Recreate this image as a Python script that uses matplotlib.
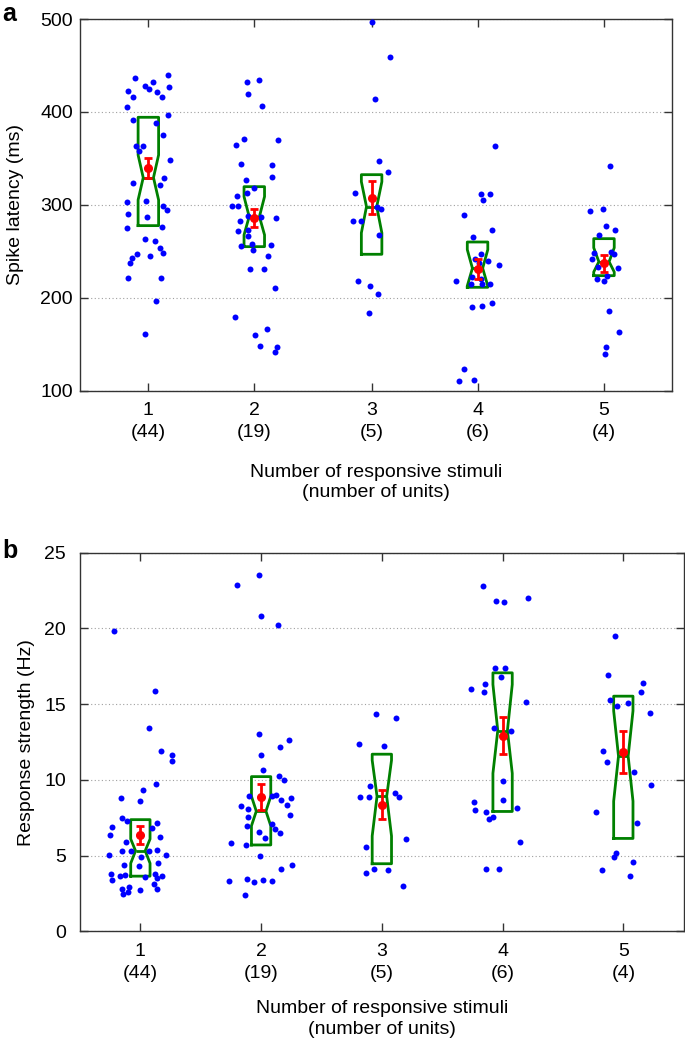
import matplotlib
matplotlib.use("Agg")
import matplotlib.pyplot as plt

plt.rcParams['font.family'] = ['Liberation Sans', 'DejaVu Sans']

# ---------------- data ----------------
stimuli = ["1", "2", "3", "4", "5"]
n_units = [44, 19, 5, 6, 4]

# Panel a: spike latency (ms), individual units
lat_1 = [436.9, 422.9, 416.5, 428.3, 424.4, 432.3, 421.1, 416.5, 439.4, 427.2, 405.0, 396.8,
         391.4, 387.8, 374.9, 363.4, 363.4, 358.1, 348.0, 324.0, 321.9, 328.7, 303.6, 304.7,
         290.7, 287.1, 298.6, 295.0, 274.9, 276.0, 263.4, 261.3, 253.4, 248.8, 247.7, 243.4,
         238.0, 244.8, 221.9, 221.2, 196.8, 160.9]
lat_1_jit = [-0.117, -0.181, -0.132, -0.029, 0.006, 0.041, 0.073, 0.123, 0.176, 0.181, -0.190, 0.176,
             -0.132, 0.067, 0.132, -0.111, -0.044, -0.082, 0.187, -0.135, 0.105, 0.135, -0.190, -0.020,
             -0.181, -0.009, 0.132, 0.167, -0.190, 0.123, -0.029, 0.056, 0.102, 0.126, -0.100, -0.146,
             -0.161, 0.018, -0.176, 0.108, 0.067, -0.029]
lat_2 = [432.3, 434.4, 419.0, 406.1, 364.5, 370.6, 370.3, 343.7, 342.7, 330.5, 326.9, 318.6,
         312.5, 309.7, 298.9, 299.3, 286.0, 283.2, 288.2, 286.4, 287.5, 272.4, 273.1, 266.7,
         256.0, 258.4, 251.6, 257.4, 245.5, 231.2, 230.8, 210.8, 179.9, 160.6, 167.0, 148.4,
         147.3, 141.9]
lat_2_jit = [-0.061, 0.038, -0.056, 0.067, -0.164, -0.091, 0.208, -0.117, 0.155, 0.152, -0.070, -0.003,
             -0.067, -0.149, -0.193, -0.143, 0.190, -0.126, -0.056, -0.015, 0.056, -0.143, -0.059, -0.056,
             -0.114, -0.023, -0.009, 0.146, 0.117, -0.038, 0.085, 0.184, -0.173, 0.006, 0.114, 0.047,
             0.196, 0.179]
lat_3 = [497.1, 414.0, 346.9, 335.1, 459.5, 313.3, 283.2, 283.2, 298.2, 295.3, 268.1, 218.3,
         213.3, 204.3, 183.5]
lat_3_jit = [0.0, 0.026, 0.067, 0.143, 0.161, -0.146, -0.167, -0.094, 0.047, 0.082, 0.067, -0.120,
             -0.018, 0.059, -0.023]
lat_4 = [363.4, 311.5, 311.5, 305.0, 289.3, 273.5, 265.3, 247.7, 242.0, 238.0, 239.8, 235.9,
         218.6, 222.6, 220.8, 215.4, 215.4, 215.4, 194.3, 190.7, 191.0, 123.3, 111.1, 112.2]
lat_4_jit = [0.149, 0.029, 0.108, 0.044, -0.117, 0.126, -0.041, 0.032, -0.026, 0.012, 0.094, 0.184,
             -0.187, -0.053, 0.029, -0.061, 0.035, 0.108, 0.129, -0.047, 0.038, -0.120, -0.161, -0.029]
lat_5 = [341.6, 293.2, 295.4, 277.8, 273.1, 268.1, 249.1, 248.0, 247.0, 242.3, 233.3, 231.9,
         224.0, 220.1, 217.9, 185.7, 163.1, 147.7, 139.4]
lat_5_jit = [0.050, -0.123, -0.006, 0.018, 0.097, -0.044, 0.061, -0.088, 0.088, -0.102, -0.050, 0.126,
             0.026, -0.064, 0.003, 0.044, 0.132, 0.015, 0.006]

# Panel a: box statistics (q1, median, q3, notch low, notch high) and mean +/- SEM
lat_q1 = [277.8, 255.2, 247.0, 211.5, 224.0]
lat_med = [329.4, 287.5, 298.2, 232.0, 239.0]
lat_q3 = [394.3, 319.7, 332.6, 260.2, 263.8]
lat_cilo = [305.4, 267.8, 270.0, 213.0, 228.0]
lat_cihi = [353.8, 309.0, 325.0, 252.0, 254.0]
lat_mean = [339.4, 285.7, 307.9, 231.5, 237.3]
lat_sem = [10.9, 9.5, 17.4, 10.8, 9.0]

# Panel b: response strength (Hz)
rs_1 = [19.85, 15.90, 13.43, 11.89, 11.67, 11.24, 9.72, 9.33, 8.83, 8.64, 7.47, 6.90, 6.36, 7.29,
        7.18, 6.86, 6.23, 5.93, 5.02, 5.30, 5.32, 5.30, 5.36, 5.02, 4.93, 4.52, 4.41, 4.32, 3.80,
        3.41, 3.65, 3.72, 3.61, 3.78, 3.50, 3.65, 2.96, 2.74, 3.11, 2.78, 2.78, 2.48, 2.63]
rs_1_jit = [-0.215, 0.121, 0.074, 0.168, 0.262, 0.262, 0.129, 0.025, -0.160, 0.0, -0.154, -0.234,
            -0.251, -0.110, 0.140, 0.096, 0.165, -0.116, -0.264, -0.154, -0.080, 0.074, 0.138, 0.209,
            0.008, 0.146, -0.135, -0.014, -0.240, -0.231, -0.168, -0.127, 0.039, 0.124, 0.135, 0.182,
            -0.096, -0.003, 0.113, 0.135, -0.154, -0.143, -0.102]
rs_2 = [23.56, 22.89, 20.81, 20.24, 13.02, 12.61, 12.17, 11.67, 10.68, 10.24, 9.98, 8.96, 8.96,
        9.03, 8.79, 8.66, 8.36, 8.27, 8.05, 7.58, 7.71, 6.95, 7.12, 6.77, 6.51, 6.56, 6.17, 5.82,
        5.71, 5.00, 4.39, 4.13, 3.35, 3.46, 3.28, 3.41, 3.30, 2.41]
rs_2_jit = [-0.019, -0.196, -0.003, 0.140, -0.019, 0.234, 0.154, 0.003, 0.017, 0.152, 0.193, -0.099,
            0.094, 0.127, 0.248, 0.165, 0.218, -0.163, -0.107, -0.107, 0.240, -0.116, 0.094, 0.116,
            0.157, -0.017, 0.030, -0.248, -0.129, -0.008, 0.256, 0.165, -0.262, -0.113, -0.055,
            0.014, 0.094, -0.132]
rs_3 = [14.34, 14.08, 12.24, 12.37, 9.57, 8.86, 8.86, 9.14, 8.90, 6.08, 5.56, 3.89, 4.13, 4.04, 3.02]
rs_3_jit = [-0.047, 0.118, 0.017, -0.190, -0.102, -0.179, -0.110, 0.113, 0.146, 0.204, -0.135,
            -0.135, -0.069, 0.050, 0.179]
rs_4 = [22.80, 21.80, 21.76, 22.04, 17.38, 17.42, 16.77, 15.99, 16.34, 15.82, 15.12, 13.43, 13.21,
        9.90, 8.66, 8.57, 7.99, 7.86, 7.42, 7.53, 8.18, 5.88, 4.13, 4.13]
rs_4_jit = [-0.160, -0.058, 0.014, 0.209, -0.061, 0.022, -0.017, -0.259, -0.149, -0.152, 0.193,
            -0.069, 0.066, 0.003, 0.003, -0.234, -0.226, -0.138, -0.113, -0.080, 0.116, 0.143,
            -0.135, -0.030]
rs_5 = [19.48, 16.94, 16.38, 15.82, 15.30, 14.86, 15.08, 14.41, 11.93, 11.18, 10.52, 9.66, 7.90,
        7.14, 5.19, 4.91, 4.56, 4.04, 3.67]
rs_5_jit = [-0.066, -0.127, 0.160, 0.143, -0.113, -0.052, 0.039, 0.218, -0.165, -0.135, 0.088,
            0.231, -0.223, 0.110, -0.061, -0.080, 0.077, -0.176, 0.058]

rs_q1 = [3.65, 5.71, 4.47, 7.92, 6.14]
rs_med = [5.32, 7.94, 8.92, 13.26, 11.57]
rs_q3 = [7.38, 10.22, 11.70, 17.07, 15.53]
rs_cilo = [4.50, 6.97, 6.30, 10.44, 8.60]
rs_cihi = [6.10, 8.92, 11.30, 16.30, 14.56]
rs_mean = [6.38, 8.86, 8.36, 12.93, 11.85]
rs_sem = [0.60, 0.86, 0.95, 1.20, 1.37]

# ---------------- layout / style ----------------
pos_a = [1.0, 1.93, 2.96, 3.89, 5.0]   # category positions in panel a
pos_b = [1.0, 2.0, 3.0, 4.0, 5.0]
BLUE = '#0000ff'
GREEN = '#008000'
RED = '#ff0000'

fig = plt.figure(figsize=(6.85, 10.44), dpi=100)
ax_a = fig.add_axes([0.1168, 0.6255, 0.8647, 0.3563])
ax_b = fig.add_axes([0.1168, 0.1078, 0.8813, 0.3628])


def draw_panel(ax, pos, vals, jits, q1, med, q3, cilo, cihi, mean, sem, width, xlabelpad):
    stats = []
    for i in range(len(pos)):
        stats.append(dict(med=med[i], q1=q1[i], q3=q3[i], cilo=cilo[i], cihi=cihi[i],
                          whislo=q1[i], whishi=q3[i], fliers=[]))
    ax.bxp(stats, positions=pos, widths=width, shownotches=True, showcaps=False,
           showfliers=False, manage_ticks=False,
           boxprops=dict(color=GREEN, linewidth=2.0),
           medianprops=dict(color=GREEN, linewidth=2.0),
           whiskerprops=dict(linewidth=0), zorder=2)
    for i in range(len(pos)):
        xs = [pos[i] + j for j in jits[i]]
        ax.plot(xs, vals[i], 'o', color=BLUE, markersize=4.3, markeredgewidth=0, zorder=3)
    ax.errorbar(pos, mean, yerr=sem, fmt='o', color=RED, markersize=5.5, elinewidth=2.0,
                capsize=3.2, capthick=2.0, zorder=4)
    ax.yaxis.grid(True, linestyle=(0, (1, 2.2)), color='#a0a0a0', linewidth=0.8)
    ax.set_axisbelow(True)
    for s in ax.spines.values():
        s.set_color('#333333')
        s.set_linewidth(1.0)
    ax.tick_params(axis='both', direction='in', top=True, right=True, labelsize=14,
                   color='#333333', width=1.0)
    ax.tick_params(axis='x', length=6, pad=8)
    ax.set_xticks(pos)
    ax.set_xticklabels([f"{s}\n({n})" for s, n in zip(stimuli, n_units)], linespacing=1.4)
    ax.set_xlabel("Number of responsive stimuli\n(number of units)", fontsize=14,
                  labelpad=xlabelpad, linespacing=1.3)


draw_panel(ax_a, pos_a, [lat_1, lat_2, lat_3, lat_4, lat_5],
           [lat_1_jit, lat_2_jit, lat_3_jit, lat_4_jit, lat_5_jit],
           lat_q1, lat_med, lat_q3, lat_cilo, lat_cihi, lat_mean, lat_sem, 0.18, 16)
ax_a.set_xlim(0.4, 5.6)
ax_a.set_ylim(100, 500)
ax_a.set_yticks([100, 200, 300, 400, 500])
ax_a.tick_params(axis='y', length=6, pad=5)
ax_a.set_ylabel("Spike latency (ms)", fontsize=14, labelpad=12)

draw_panel(ax_b, pos_b, [rs_1, rs_2, rs_3, rs_4, rs_5],
           [rs_1_jit, rs_2_jit, rs_3_jit, rs_4_jit, rs_5_jit],
           rs_q1, rs_med, rs_q3, rs_cilo, rs_cihi, rs_mean, rs_sem, 0.16, 13)
ax_b.set_xlim(0.5, 5.5)
ax_b.set_ylim(0, 25)
ax_b.set_yticks([0, 5, 10, 15, 20, 25])
ax_b.tick_params(axis='y', length=6, pad=10)
ax_b.set_ylabel("Response strength (Hz)", fontsize=14, labelpad=7)

fig.text(0.004, 0.998, "a", fontsize=18, fontweight='bold', va='top', ha='left')
fig.text(0.004, 0.484, "b", fontsize=18, fontweight='bold', va='top', ha='left')

fig.savefig("out.png", dpi=100)
